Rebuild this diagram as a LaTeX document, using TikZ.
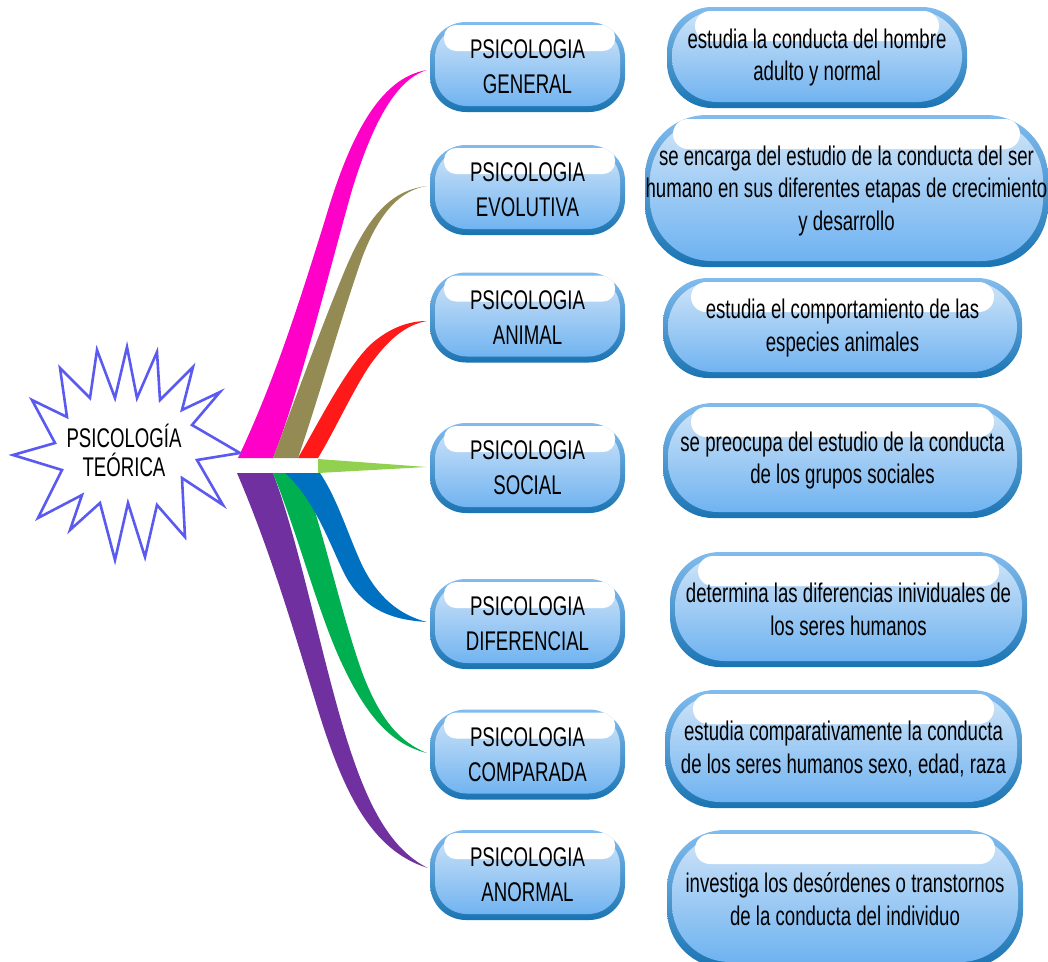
\documentclass[tikz,border=0pt]{standalone}
\usepackage{fontspec}
\setmainfont{Liberation Sans}[FakeStretch=0.69]
\definecolor{ringT}{HTML}{82BCEE}
\definecolor{ringB}{HTML}{1A74B2}
\definecolor{fillT}{HTML}{D3E6F8}
\definecolor{fillB}{HTML}{6AB0F0}
\definecolor{rMag}{HTML}{FF00C8}
\definecolor{rOli}{HTML}{948A54}
\definecolor{rRed}{HTML}{FF1919}
\definecolor{rLgr}{HTML}{92D050}
\definecolor{rBlu}{HTML}{0070C0}
\definecolor{rGrn}{HTML}{00B050}
\definecolor{rPur}{HTML}{7030A0}
\definecolor{starC}{HTML}{5A5AF0}
\tikzset{
  cattext/.style={font=\fontsize{27}{35}\selectfont},
  desctext/.style={font=\fontsize{27}{32.5}\selectfont},
  catbox/.style={rectangle, rounded corners=36pt, inner sep=0pt, align=center,
    minimum width=195pt, minimum height=90pt, top color=ringT, bottom color=ringB,
    cattext,
    path picture={
      \shade[top color=fillT, bottom color=fillB, rounded corners=32pt]
        ([xshift=5pt,yshift=-4pt]path picture bounding box.north west) rectangle
        ([xshift=-5pt,yshift=6pt]path picture bounding box.south east);
      \fill[white, rounded corners=12pt]
        ([xshift=14pt,yshift=-3pt]path picture bounding box.north west) rectangle
        ([xshift=-10pt,yshift=-29pt]path picture bounding box.north east);
    }},
  descbox/.style={rectangle, rounded corners=#1, inner sep=0pt, align=center,
    top color=ringT, bottom color=ringB, desctext,
    path picture={
      \shade[top color=fillT, bottom color=fillB, rounded corners=#1]
        ([xshift=5pt,yshift=-4pt]path picture bounding box.north west) rectangle
        ([xshift=-5pt,yshift=6pt]path picture bounding box.south east);
      \fill[white, rounded corners=15pt]
        ([xshift=28pt,yshift=-4pt]path picture bounding box.north west) rectangle
        ([xshift=-28pt,yshift=-34pt]path picture bounding box.north east);
    }},
  descbox/.default=45pt,
  startext/.style={font=\fontsize{27}{29}\selectfont, align=center, inner sep=0pt},
  starshape/.style={fill=white, draw=starC, line width=2.6pt, line join=miter},
}
\begin{document}
\begin{tikzpicture}[x=1pt, y=-1pt]
\path[use as bounding box] (0,0) rectangle (1048,961);
\clip (0,0) rectangle (1048,961);

% category nodes
\node[catbox] (c1) at (527.5,67)   {PSICOLOGIA\\GENERAL};
\node[catbox] (c2) at (527.5,190)  {PSICOLOGIA\\EVOLUTIVA};
\node[catbox] (c3) at (527.5,317.5){PSICOLOGIA\\ANIMAL};
\node[catbox] (c4) at (527.5,468)  {PSICOLOGIA\\SOCIAL};
\node[catbox] (c5) at (527.5,624)  {PSICOLOGIA\\DIFERENCIAL};
\node[catbox] (c6) at (527.5,754.5){PSICOLOGIA\\COMPARADA};
\node[catbox] (c7) at (527.5,875)  {PSICOLOGIA\\ANORMAL};

% description nodes
\node[descbox, minimum width=300pt, minimum height=101pt] (d1) at (817,57.5)
  {estudia la conducta del hombre\\adulto y normal};
\node[descbox=62pt, minimum width=403pt, minimum height=152pt] (d2) at (846.5,191)
  {se encarga del estudio de la conducta del ser\\humano en sus diferentes etapas de crecimiento\\y desarrollo};
\node[descbox, minimum width=359pt, minimum height=100pt] (d3) at (842.5,328)
  {estudia el comportamiento de las\\especies animales};
\node[descbox=50pt, minimum width=359pt, minimum height=115pt] (d4) at (842.5,460.5)
  {se preocupa del estudio de la conducta\\de los grupos sociales};
\node[descbox=50pt, minimum width=357pt, minimum height=115pt] (d5) at (848.5,609.5)
  {determina las diferencias inividuales de\\los seres humanos};
\node[descbox=50pt, minimum width=357pt, minimum height=118pt] (d6) at (843.5,749)
  {estudia comparativamente la conducta\\de los seres humanos sexo, edad, raza};
\node[descbox=58pt, minimum width=356pt, minimum height=138pt] (d7) at (845,899)
  {investiga los desórdenes o transtornos\\de la conducta del individuo};

% ribbon tips
\coordinate (t1) at ([shift={(-3pt,-3pt)}]c1.west);
\coordinate (t2) at ([shift={(-3pt,4pt)}]c2.west);
\coordinate (t3) at ([shift={(-3pt,-3.5pt)}]c3.west);
\coordinate (t4) at ([shift={(-3pt,1pt)}]c4.west);
\coordinate (t5) at ([shift={(-3pt,2pt)}]c5.west);
\coordinate (t6) at ([shift={(-3pt,1.5pt)}]c6.west);
\coordinate (t7) at ([shift={(-2pt,7pt)}]c7.west);

% upper ribbons
\fill[rMag] (238,458) .. controls (275,380) and (300,300) .. (325,220)
  .. controls (350,135) and (380,78) .. (t1)
  .. controls (395,80) and (372,125) .. (352,190)
  .. controls (328,275) and (300,390) .. (273,458) -- cycle;
\fill[rOli] (273,458) .. controls (295,400) and (320,330) .. (345,270)
  .. controls (370,210) and (395,190) .. (t2)
  .. controls (402,190) and (380,210) .. (362,258)
  .. controls (342,315) and (318,400) .. (298,458) -- cycle;
\fill[rRed] (298,458) .. controls (320,420) and (345,370) .. (370,345)
  .. controls (390,327) and (410,321) .. (t3)
  .. controls (405,325) and (388,340) .. (370,365)
  .. controls (352,392) and (335,430) .. (318,458) -- cycle;
% middle spike
\fill[rLgr] (318,459) -- (t4) -- (318,473) -- cycle;
% lower ribbons
\fill[rPur] (237,473) .. controls (270,550) and (292,625) .. (315,700)
  .. controls (342,790) and (370,850) .. (t7)
  .. controls (388,848) and (366,800) .. (347,740)
  .. controls (322,660) and (300,545) .. (273,473) -- cycle;
\fill[rGrn] (273,473) .. controls (300,540) and (320,620) .. (345,670)
  .. controls (370,722) and (395,745) .. (t6)
  .. controls (400,742) and (380,720) .. (362,672)
  .. controls (340,610) and (322,525) .. (302,473) -- cycle;
\fill[rBlu] (285,473) .. controls (315,500) and (330,545) .. (345,575)
  .. controls (365,612) and (395,620) .. (t5)
  .. controls (400,615) and (378,598) .. (362,565)
  .. controls (348,535) and (338,500) .. (320,473) -- cycle;

% star
\draw[starshape] (13,455) -- (55,443) -- (32,400) -- (67,417) -- (60,368) -- (90,398)
  -- (97,350) -- (115,398) -- (127,347) -- (137,398) -- (157,352) -- (160,400)
  -- (193,367) -- (182,410) -- (220,392) -- (192,425) -- (240,453) -- (197,460)
  -- (223,505) -- (182,478) -- (185,537) -- (157,505) -- (145,557) -- (128,503)
  -- (115,560) -- (100,503) -- (70,530) -- (82,495) -- (38,518) -- (62,470) -- cycle;
\node[startext] (star) at (124,450) {PSICOLOGÍA\\TEÓRICA};
\end{tikzpicture}
\end{document}
